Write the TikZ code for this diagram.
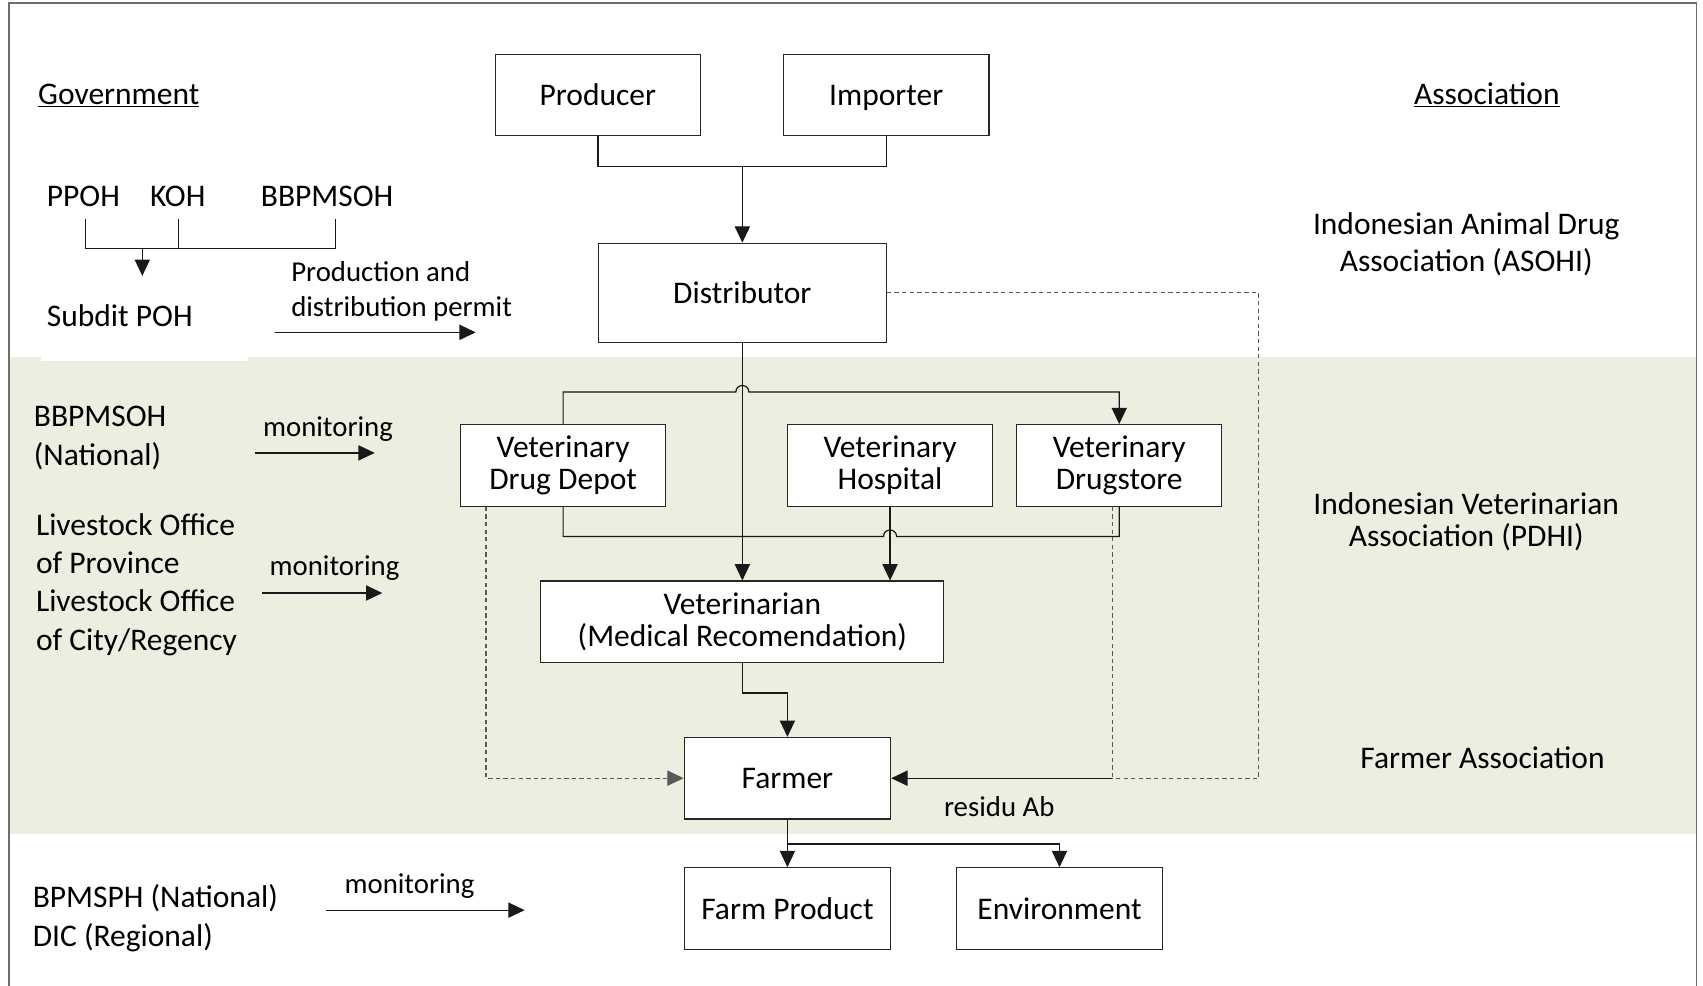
\documentclass[tikz,border=0pt]{standalone}
\usepackage{fontspec}
\setmainfont{Carlito}
\usetikzlibrary{arrows.meta}
\definecolor{band}{RGB}{235,239,224}
\definecolor{frame}{RGB}{110,110,110}
\begin{document}
\begin{tikzpicture}[x=1pt,y=-1pt,
  box/.style={draw=black!85,line width=1.1pt,fill=white,minimum width=189pt,minimum height=75pt,align=center,inner sep=0pt,font=\fontsize{29}{30}\selectfont},
  lbl/.style={inner sep=0pt,font=\fontsize{29}{35}\selectfont},
  small/.style={inner sep=0pt,font=\fontsize{26.5}{32}\selectfont},
  arr/.style={-{Triangle[length=15pt,width=14pt]}},
  ln/.style={line width=1.1pt,draw=black!90},
  dsh/.style={line width=1pt,draw=black!65,dash pattern=on 4pt off 3pt}]
\useasboundingbox (0,0) rectangle (1568,907);
% background band and frame
\fill[band] (9,329) rectangle (1562,768);
\fill[white] (38,329) rectangle (228,332);
\draw[frame,line width=1.5pt] (8,915) -- (8,3) -- (1562,3) -- (1562,915);

% boxes
\node[box] (prod) at (550.5,87.5) {Producer};
\node[box] (imp) at (816,87.5) {\raisebox{0pt}[\height][0pt]{Importer}};
\node[box,minimum width=265pt,minimum height=91pt] (dist) at (683.5,269.5) {Distributor};
\node[box] (depot) at (518.5,428.5) {Veterinary\\Drug Depot};
\node[box] (hosp) at (819.5,428.5) {Veterinary\\Hospital};
\node[box] (store) at (1030.5,428.5) {Veterinary\\Drugstore};
\node[box,minimum width=371pt] (vet) at (683.5,572.5) {Veterinarian\\(Medical Recomendation)};
\node[box,minimum width=190pt] (farmer) at (725,716.5) {Farmer};
\node[box,minimum width=190pt] (fp) at (725,836.5) {Farm Product};
\node[box] (env) at (975.5,836.5) {Environment};

% connectors
\coordinate (j1) at (683.5,153);
\draw[ln] (prod.south) |- (j1) -| (imp.south);
\draw[ln,arr] (j1) -- (dist.north);
\draw[ln,arr] (dist.south) -- (vet.north);
\draw[ln,arr] (depot.north) -- (518.5,361) -- (677.5,361)
   .. controls (677.5,353) and (689.5,353) .. (689.5,361) -- (1030.5,361) -- (store.north);
\draw[ln] (depot.south) -- (518.5,494) -- (813.5,494)
   .. controls (813.5,486) and (825.5,486) .. (825.5,494) -- (1030.5,494) -- (store.south);
\draw[ln,arr] (hosp.south) -- (hosp.south |- vet.north);
\coordinate (j2) at (683.5,638);
\draw[ln,arr] (vet.south) -- (j2) -| (farmer.north);
\coordinate (m) at (1024,716.5);
\coordinate (c2) at (1159,716.5);
\draw[dsh,arr] ([xshift=24pt]depot.south west) |- (farmer.west);
\draw[dsh] ([xshift=-6.5pt]store.south) -- (m);
\draw[dsh] (dist.east) -| (c2) -- (m);
\draw[ln,arr] (m) -- (farmer.east);
\coordinate (j3) at (725,777);
\draw[ln,arr] (farmer.south) -- (fp.north);
\draw[ln,arr] (j3) -| (env.north);

% left: government
\node[lbl,anchor=base west] (gov) at (35,96) {\underline{Government}};
\node[lbl,anchor=base west] (ppoh) at (43,190) {PPOH};
\node[lbl,anchor=base west] (koh) at (138,190) {KOH};
\node[lbl,anchor=base west] (bb1) at (240,190) {BBPMSOH};
\coordinate (b1) at (79,202);
\coordinate (b2) at (164,202);
\coordinate (b3) at (309,202);
\coordinate (bj) at (131,229);
\coordinate (be) at (131,254);
\draw[ln] (b1) |- (b3 |- bj) -- (b3);
\draw[ln] (b2) -- (b2 |- bj);
\draw[ln,arr] (bj) -- (be);
\node[lbl,anchor=base west] (subdit) at (43,301) {Subdit POH};
\node[small,anchor=base west] (perm1) at (268,259) {Production and};
\node[small,anchor=base west] (perm2) at (268,291) {distribution permit};
\coordinate (pa1) at (253,306);
\coordinate (pa2) at (438,306);
\draw[ln,arr] (pa1) -- (pa2);

\node[lbl,anchor=base west] (bb2) at (31,393) {BBPMSOH};
\node[lbl,anchor=base west] (nat) at (31,429) {(National)};
\node[small,anchor=base] (mon1) at (302,402) {monitoring};
\coordinate (ma1) at (235,417);
\coordinate (ma2) at (345,417);
\draw[ln,arr] (ma1) -- (ma2);

\node[lbl,anchor=base west] (lo1) at (33,493) {Livestock Office};
\node[lbl,anchor=base west] (lo2) at (33,528) {of Province};
\node[lbl,anchor=base west] (lo3) at (33,563) {Livestock Office};
\node[lbl,anchor=base west] (lo4) at (33,599) {of City/Regency};
\node[small,anchor=base] (mon2) at (308,530) {monitoring};
\coordinate (mb1) at (241,546);
\coordinate (mb2) at (352,546);
\draw[ln,arr] (mb1) -- (mb2);

\node[lbl,anchor=base west] (bp1) at (30,836) {BPMSPH (National)};
\node[lbl,anchor=base west] (bp2) at (30,871) {DIC (Regional)};
\node[small,anchor=base] (mon3) at (377,823) {monitoring};
\coordinate (mc1) at (300,838);
\coordinate (mc2) at (483,838);
\draw[ln,arr] (mc1) -- (mc2);

\node[small,anchor=base] (res) at (920,752) {residu Ab};

% right: association
\node[lbl,anchor=base] (assoc) at (1369,96) {\underline{Association}};
\node[lbl,anchor=base] (as1) at (1350,216) {Indonesian Animal Drug};
\node[lbl,anchor=base] (as2) at (1350,250) {Association (ASOHI)};
\node[lbl,anchor=base] (as3) at (1350,474) {Indonesian Veterinarian};
\node[lbl,anchor=base] (as4) at (1350,503) {Association (PDHI)};
\node[lbl,anchor=base] (as5) at (1365,708) {Farmer Association};
\end{tikzpicture}
\end{document}
